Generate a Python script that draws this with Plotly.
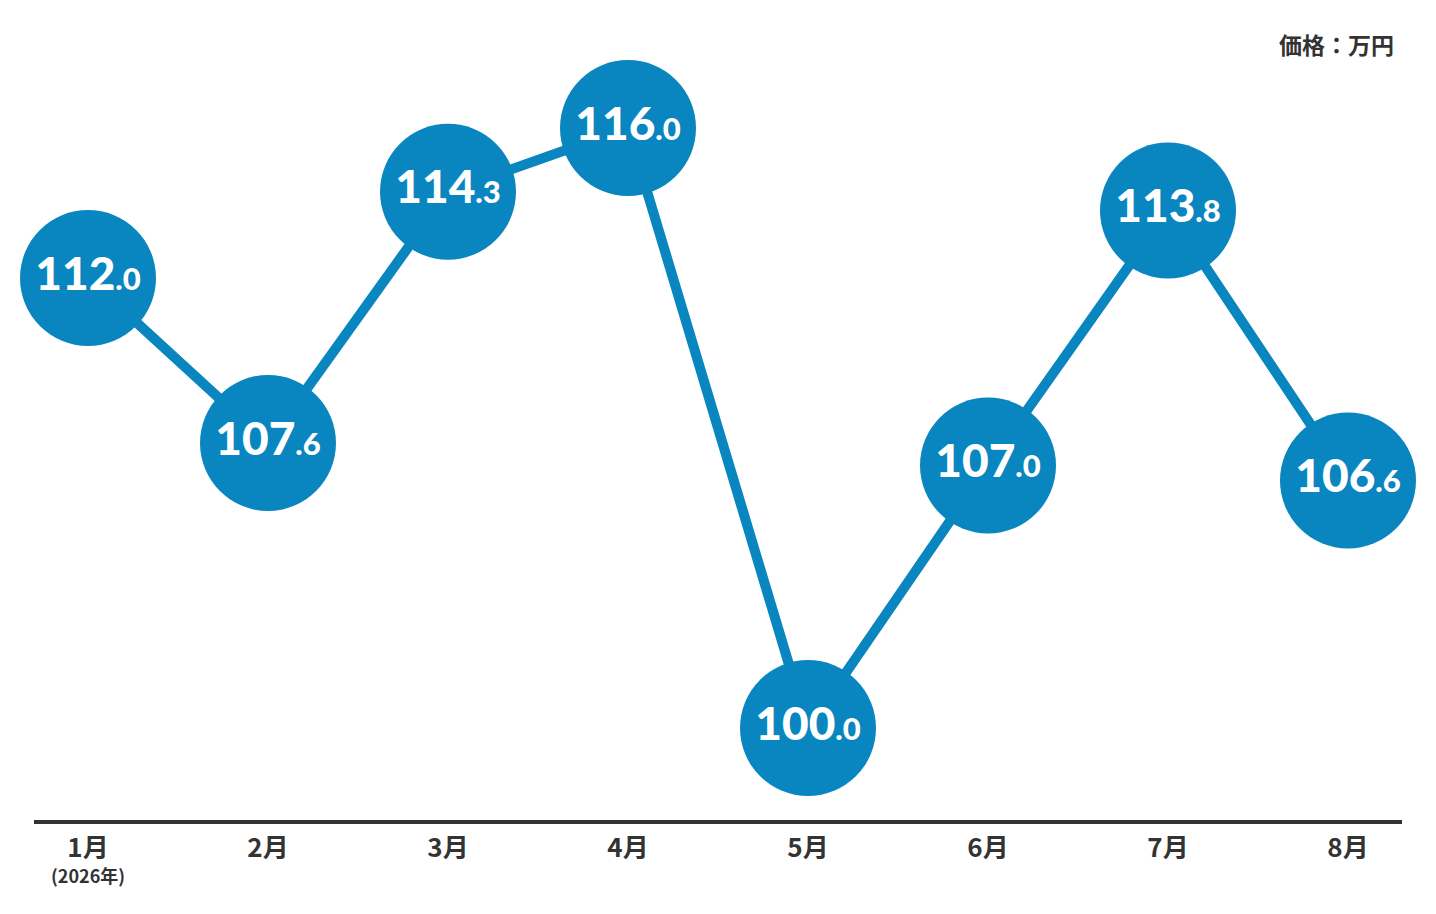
import plotly.graph_objects as go

months = ["1月", "2月", "3月", "4月", "5月", "6月", "7月", "8月"]
prices = [112.0, 107.6, 114.3, 116.0, 100.0, 107.0, 113.8, 106.6]
year_note = "(2026年)"
unit_label = "価格：万円"

BLUE = "#0986bf"
DARK = "#333333"
CJK = "Noto Sans CJK JP"


def price_label(v: float) -> str:
    whole, frac = f"{v:.1f}".split(".")
    return f"{whole}<span style='font-size:31px'>.{frac}</span>"


x = list(range(len(months)))

fig = go.Figure()
fig.add_trace(
    go.Scatter(
        x=x,
        y=prices,
        mode="lines+markers+text",
        line=dict(color=BLUE, width=10),
        marker=dict(size=136, color=BLUE),
        text=[price_label(v) for v in prices],
        textposition="middle center",
        textfont=dict(family="Lato", size=46, color="white", weight=900),
        hoverinfo="skip",
        cliponaxis=False,
    )
)

# year note under the first month
fig.add_annotation(
    text=year_note,
    xref="x", yref="paper",
    x=x[0], y=0,
    xanchor="center", yanchor="middle",
    yshift=-55,
    showarrow=False,
    font=dict(family=CJK, size=18, color=DARK, weight=600),
)

fig.add_annotation(
    text=unit_label,
    xref="paper", yref="paper",
    x=1.0, y=1.0,
    xanchor="right", yanchor="top",
    yshift=-17,
    xshift=-6,
    showarrow=False,
    font=dict(family=CJK, size=23, color=DARK, weight=700),
)

# page is drawn with an 8px body margin, so the figure is 8px smaller each way
fig.update_layout(
    width=1428,
    height=906,
    margin=dict(l=26, r=34, t=0, b=94),
    plot_bgcolor="white",
    paper_bgcolor="white",
    showlegend=False,
    xaxis=dict(
        range=[-0.3, 7.3],
        tickvals=x,
        ticktext=months,
        showgrid=False,
        zeroline=False,
        showline=True,
        linecolor=DARK,
        linewidth=4,
        ticks="",
        ticklabelstandoff=2,
        tickfont=dict(family=CJK, size=26, color=DARK, weight=600),
    ),
    yaxis=dict(
        range=[97.547, 119.2],
        visible=False,
        showgrid=False,
        zeroline=False,
    ),
)

fig.write_html("out.html")
